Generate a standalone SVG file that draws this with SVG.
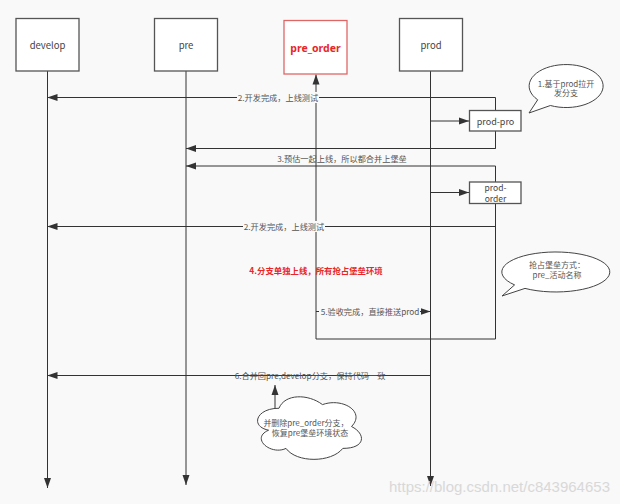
<svg xmlns="http://www.w3.org/2000/svg" width="620" height="504" viewBox="0 0 620 504">
<defs>
<marker id="arr" markerUnits="userSpaceOnUse" markerWidth="10" markerHeight="8" refX="10" refY="4" orient="auto">
<path d="M0,0.5 L10,4 L0,7.5 z" fill="#333"/>
</marker>
<style>
.box{fill:#fff;stroke:#555;stroke-width:1.3}
.ln{fill:none;stroke:#333;stroke-width:1}
.lbl{font-family:"Noto Sans CJK SC","Noto Sans",sans-serif;font-size:9.5px;fill:#444;text-anchor:middle}
.msg{font-family:"Noto Sans CJK SC","Noto Sans",sans-serif;font-size:8.2px;fill:#555;text-anchor:middle}
.bub{fill:#fff;stroke:#444;stroke-width:1}
</style>
</defs>
<rect width="620" height="504" fill="#f9f9f9"/>

<g id="connectors">
<line class="ln" x1="47.5" y1="71" x2="47.5" y2="488" marker-end="url(#arr)"/>
<line class="ln" x1="186" y1="71" x2="186" y2="485" marker-end="url(#arr)"/>
<line class="ln" x1="430.5" y1="71" x2="430.5" y2="486" marker-end="url(#arr)"/>
<polyline class="ln" points="186,148.5 495.5,148.5 495.5,97.5 47.5,97.5" marker-end="url(#arr)"/>
<line class="ln" x1="495.5" y1="148.5" x2="186" y2="148.5" marker-end="url(#arr)"/>
<line class="ln" x1="430.5" y1="121" x2="469" y2="121" marker-end="url(#arr)"/>
<polyline class="ln" points="495.5,166 186,166" marker-end="url(#arr)"/>
<polyline class="ln" points="495.5,166 495.5,339 316,339 316,74.5" marker-end="url(#arr)"/>
<line class="ln" x1="495.5" y1="226.5" x2="47.5" y2="226.5" marker-end="url(#arr)"/>
<line class="ln" x1="430.5" y1="192.5" x2="469" y2="192.5" marker-end="url(#arr)"/>
<line class="ln" x1="316" y1="311.5" x2="430.5" y2="311.5" marker-end="url(#arr)"/>
<line class="ln" x1="430.5" y1="375.5" x2="47.5" y2="375.5" marker-end="url(#arr)"/>
<line class="ln" x1="275" y1="408" x2="275" y2="385" marker-end="url(#arr)"/>
</g>

<g id="labels">
<rect x="237" y="92" width="82" height="11" fill="#f9f9f9"/>
<text class="msg" x="278" y="100.5">2.开发完成，上线测试</text>
<text class="msg" x="342" y="161.5">3.预估一起上线，所以都合并上堡垒</text>
<rect x="243" y="221" width="82" height="11" fill="#f9f9f9"/>
<text class="msg" x="284" y="229.5">2.开发完成，上线测试</text>
<text x="316" y="273.5" font-family="'Noto Sans CJK SC','Noto Sans',sans-serif" font-size="8.4" font-weight="bold" fill="#e8262a" text-anchor="middle">4.分支单独上线，所有抢占堡垒环境</text>
<rect x="319" y="306" width="101" height="11" fill="#f9f9f9"/>
<text class="msg" x="370" y="314.5">5.验收完成，直接推送prod</text>
<text class="msg" x="310" y="378.5">6.合并回pre,develop分支，保持代码一致</text>
</g>

<g id="develop">
<rect class="box" x="16" y="18.5" width="63" height="52.5"/>
<text class="lbl" x="47.5" y="49">develop</text>
</g>
<g id="pre">
<rect class="box" x="154.5" y="18.5" width="63" height="52.5"/>
<text class="lbl" x="186" y="49">pre</text>
</g>
<g id="pre_order">
<rect x="284" y="20.5" width="63" height="53.5" fill="#fff" stroke="#e06666" stroke-width="1.3"/>
<text x="315.5" y="52" font-family="'Noto Sans','Noto Sans CJK SC',sans-serif" font-size="10.5" font-weight="bold" fill="#e8262a" text-anchor="middle">pre_order</text>
</g>
<g id="prod">
<rect class="box" x="399.5" y="18.5" width="63" height="52.5"/>
<text class="lbl" x="431" y="49">prod</text>
</g>
<g id="prod-pro">
<rect class="box" x="469.5" y="110.5" width="51.5" height="20.5"/>
<text class="lbl" x="495.5" y="124.5" style="font-size:9px">prod-pro</text>
</g>
<g id="prod-order">
<rect class="box" x="469.5" y="182" width="51.5" height="21.5"/>
<text class="lbl" x="495.5" y="190.5" style="font-size:8.5px">prod-</text>
<text class="lbl" x="495.5" y="201.5" style="font-size:8.5px">order</text>
</g>

<g id="callout1">
<path class="bub" d="M537.7,99.8 L529,113 L550.4,105.5 A37,21.5 0 1,0 537.7,99.8 Z"/>
<text class="msg" x="566" y="86.5" style="font-size:8px">1.基于prod拉开</text>
<text class="msg" x="566" y="96" style="font-size:8px">发分支</text>
</g>
<g id="callout2">
<path class="bub" d="M514.6,284.9 L502,296 L525,288.4 A54,20 0 1,0 514.6,284.9 Z"/>
<text class="msg" x="557" y="268" style="font-size:8px">抢占堡垒方式：</text>
<text class="msg" x="557" y="278" style="font-size:8px">pre_活动名称</text>
</g>
<g id="cloud">
<path class="bub" d="M279,408.25 C255.8,408.25 250,426.5 268.6,430.2 C250,438.2 270.9,455.7 286,448.4 C296.4,463 331.2,463 342.8,448.4 C366,448.4 366,433.8 351.5,426.5 C366,411.9 342.8,397.3 322.5,404.6 C308,393.65 284.8,393.65 279,408.25 Z"/>
<text class="msg" x="306" y="426" style="font-size:8px">并删除pre_order分支，</text>
<text class="msg" x="310" y="436" style="font-size:8px">恢复pre堡垒环境状态</text>
</g>

<text x="610" y="492" font-family="'Liberation Sans',Arial,sans-serif" font-size="15" fill="#d8d8d8" text-anchor="end">https://blog.csdn.net/c843964653</text>
</svg>
